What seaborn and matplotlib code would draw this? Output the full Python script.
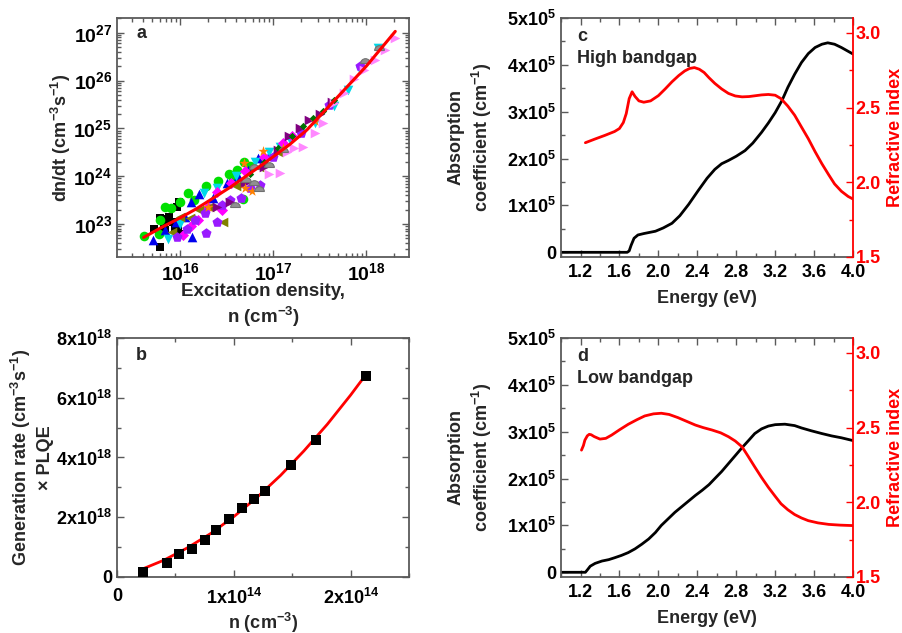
import numpy as np
import pandas as pd
import matplotlib
matplotlib.use("Agg")
import matplotlib.pyplot as plt
import seaborn as sns
from matplotlib.ticker import MultipleLocator, FixedLocator, LogLocator, NullFormatter
from matplotlib.markers import MarkerStyle

# ---------------- data: panel a (log10 values) ----------------
black_sq_logn = [15.72, 15.78, 15.78, 15.82, 15.84, 15.84, 15.88, 15.92, 15.94, 15.96, 15.98, 15.99, 16.0]
black_sq_logy = [22.89, 22.52, 23.12, 22.94, 23.10, 22.87, 23.14, 23.05, 22.93, 23.35, 22.87, 23.47, 22.80]
green_ci_logn = [15.61, 15.77, 15.78, 15.84, 15.90, 16.0, 16.08, 16.15, 16.28, 16.41, 16.52, 16.57, 16.61, 16.67, 16.68, 16.75]
green_ci_logy = [22.75, 22.80, 23.08, 23.35, 23.33, 23.47, 23.64, 23.50, 23.80, 23.90, 24.05, 23.96, 24.12, 23.52, 24.29, 24.22]
blue_tr_logn = [15.71, 15.84, 15.95, 16.05, 16.12, 16.13, 16.20, 16.35, 16.5, 16.62, 16.73, 16.84, 16.95]
blue_tr_logy = [22.66, 22.87, 23.05, 23.15, 23.47, 22.72, 23.63, 23.55, 23.85, 24.0, 24.13, 24.38, 24.45]
cyan_dt_logn = [15.87, 16.0, 16.25, 16.4, 16.6, 16.8, 16.95, 17.07, 17.18, 17.29, 17.45, 17.65, 17.8, 17.93, 18.13]
cyan_dt_logy = [22.68, 23.0, 23.64, 23.75, 24.0, 24.3, 24.5, 24.62, 24.76, 24.90, 25.12, 25.46, 25.80, 26.23, 26.69]
magenta_di_logn = [16.03, 16.12, 16.19, 16.30, 16.40, 16.45, 16.55, 16.7, 16.9, 17.1, 17.2]
magenta_di_logy = [22.77, 22.95, 23.08, 23.35, 23.68, 23.29, 23.85, 24.1, 24.4, 24.7, 24.85]
olive_lt_logn = [15.91, 16.0, 16.10, 16.2, 16.31, 16.46, 16.6, 16.85, 17.05]
olive_lt_logy = [22.84, 23.15, 23.12, 23.3, 23.35, 23.05, 23.8, 24.2, 24.5]
violet_pe_logn = [15.96, 16.07, 16.16, 16.27, 16.28, 16.39, 16.45, 16.53, 16.65, 16.75, 16.86, 17.0, 17.3, 17.6, 17.93]
violet_pe_logy = [22.73, 22.90, 23.08, 23.22, 22.82, 23.05, 23.40, 23.50, 23.55, 23.75, 23.82, 24.4, 24.9, 25.5, 26.3]
purple_rt_logn = [16.4, 16.53, 16.7, 16.9, 17.05, 17.17, 17.29, 17.38, 17.5, 17.63]
purple_rt_logy = [23.35, 23.47, 23.85, 24.2, 24.55, 24.85, 25.0, 25.18, 25.3, 25.55]
orange_st_logn = [16.30, 16.68, 16.70, 16.77, 16.89, 17.1, 17.45]
orange_st_logy = [23.36, 24.28, 23.75, 23.70, 24.53, 24.6, 25.15]
gray_hc_logn = [16.59, 16.71, 16.79, 16.79, 16.85, 16.95, 17.1, 17.99, 18.14]
gray_hc_logy = [23.36, 23.87, 23.82, 24.15, 23.70, 24.2, 24.5, 26.37, 26.65]
pink_rt_logn = [16.95, 17.07, 17.15, 17.22, 17.32, 17.45, 17.54, 17.65, 17.76, 17.87, 17.98, 18.09, 18.2, 18.31]
pink_rt_logy = [24.05, 24.06, 24.5, 24.59, 24.62, 24.90, 25.12, 25.53, 25.74, 26.03, 26.23, 26.44, 26.65, 26.90]
dgreen_sm_logn = [16.75, 16.9, 17.05, 17.2, 17.32, 17.43, 17.54, 17.65]
dgreen_sm_logy = [24.05, 24.3, 24.6, 24.85, 25.05, 25.21, 25.36, 25.6]

fit_a_n = [4.04e15, 6.3e15, 1.0e16, 1.5e16, 3.5e16, 8.0e16, 1.5e17, 2.3e17, 5.2e17, 1.0e18, 2.05e18]
fit_a_rate = [5.25e22, 8.5e22, 1.35e23, 2.1e23, 6.0e23, 1.86e24, 4.6e24, 9.3e24, 5.1e25, 2.0e26, 1.07e27]

a_xticks = [1e16, 1e17, 1e18]
a_xticklabels = [r"$10^{16}$", r"$10^{17}$", r"$10^{18}$"]
a_yticks = [1e23, 1e24, 1e25, 1e26, 1e27]
a_yticklabels = [r"$10^{23}$", r"$10^{24}$", r"$10^{25}$", r"$10^{26}$", r"$10^{27}$"]

# ---------------- data: panel b ----------------
b_n = [0.22e14, 0.43e14, 0.53e14, 0.64e14, 0.75e14, 0.85e14, 0.96e14, 1.07e14, 1.17e14, 1.27e14, 1.49e14, 1.70e14, 2.13e14]
b_g = [0.16e18, 0.46e18, 0.76e18, 0.93e18, 1.24e18, 1.57e18, 1.93e18, 2.32e18, 2.61e18, 2.89e18, 3.75e18, 4.58e18, 6.73e18]
b_fit_n = [0.22e14, 0.4e14, 0.6e14, 0.8e14, 1.0e14, 1.2e14, 1.4e14, 1.6e14, 1.8e14, 2.0e14, 2.13e14]
b_fit_g = [0.27e18, 0.56e18, 0.97e18, 1.45e18, 2.02e18, 2.67e18, 3.40e18, 4.22e18, 5.11e18, 6.09e18, 6.77e18]
b_xticks = [0, 1e14, 2e14]
b_xticklabels = ["0", r"1x10$^{14}$", r"2x10$^{14}$"]
b_yticks = [0, 2e18, 4e18, 6e18, 8e18]
b_yticklabels = ["0", r"2x10$^{18}$", r"4x10$^{18}$", r"6x10$^{18}$", r"8x10$^{18}$"]

# ---------------- data: panel c (high bandgap) ----------------
c_abs_e = [1.0, 1.68, 1.70, 1.72, 1.75, 1.79, 1.85, 1.97, 2.05, 2.14, 2.22, 2.31, 2.41, 2.50, 2.58, 2.65, 2.72,
           2.80, 2.89, 2.97, 3.06, 3.13, 3.20, 3.27, 3.33, 3.40, 3.47, 3.54, 3.61, 3.68, 3.74, 3.81, 3.88, 3.94, 4.0]
c_abs = [0, 0, 0.03e5, 0.15e5, 0.30e5, 0.37e5, 0.40e5, 0.45e5, 0.52e5, 0.62e5, 0.78e5, 1.02e5, 1.32e5, 1.58e5,
         1.77e5, 1.89e5, 1.96e5, 2.05e5, 2.17e5, 2.33e5, 2.56e5, 2.76e5, 2.98e5, 3.24e5, 3.52e5, 3.80e5, 4.05e5,
         4.24e5, 4.37e5, 4.44e5, 4.47e5, 4.44e5, 4.37e5, 4.30e5, 4.23e5]
c_ri_e = [1.25, 1.35, 1.45, 1.55, 1.60, 1.64, 1.67, 1.70, 1.73, 1.76, 1.80, 1.85, 1.92, 2.0, 2.07, 2.14, 2.21,
          2.27, 2.32, 2.37, 2.42, 2.47, 2.52, 2.58, 2.65, 2.72, 2.79, 2.86, 2.93, 2.99, 3.06, 3.13, 3.20, 3.26,
          3.33, 3.40, 3.47, 3.54, 3.61, 3.68, 3.75, 3.81, 3.88, 3.95, 4.0]
c_ri = [2.265, 2.29, 2.314, 2.34, 2.36, 2.40, 2.46, 2.56, 2.606, 2.575, 2.545, 2.536, 2.545, 2.58, 2.625, 2.673,
        2.715, 2.745, 2.762, 2.768, 2.757, 2.735, 2.70, 2.662, 2.625, 2.595, 2.578, 2.572, 2.574, 2.579, 2.585,
        2.588, 2.583, 2.56, 2.51, 2.449, 2.37, 2.292, 2.205, 2.124, 2.05, 1.989, 1.94, 1.905, 1.888]

# ---------------- data: panel d (low bandgap) ----------------
d_abs_e = [1.0, 1.25, 1.27, 1.30, 1.35, 1.42, 1.49, 1.55, 1.62, 1.69, 1.76, 1.83, 1.90, 1.97, 2.03, 2.10, 2.17,
           2.24, 2.31, 2.38, 2.45, 2.52, 2.58, 2.65, 2.72, 2.79, 2.86, 2.93, 2.99, 3.06, 3.13, 3.20, 3.30, 3.40,
           3.47, 3.57, 3.68, 3.78, 3.88, 4.0]
d_abs = [0, 0, 0.05e5, 0.13e5, 0.19e5, 0.24e5, 0.27e5, 0.31e5, 0.36e5, 0.42e5, 0.50e5, 0.60e5, 0.71e5, 0.85e5,
         1.0e5, 1.14e5, 1.28e5, 1.40e5, 1.52e5, 1.64e5, 1.75e5, 1.87e5, 2.0e5, 2.15e5, 2.32e5, 2.49e5, 2.66e5,
         2.82e5, 2.96e5, 3.06e5, 3.12e5, 3.15e5, 3.16e5, 3.13e5, 3.08e5, 3.02e5, 2.96e5, 2.91e5, 2.87e5, 2.81e5]
d_ri_e = [1.21, 1.23, 1.245, 1.27, 1.29, 1.31, 1.34, 1.40, 1.46, 1.52, 1.60, 1.69, 1.78, 1.86, 1.95, 2.03, 2.11,
          2.20, 2.29, 2.38, 2.46, 2.55, 2.64, 2.72, 2.79, 2.86, 2.92, 2.99, 3.06, 3.13, 3.20, 3.26, 3.33, 3.40,
          3.47, 3.54, 3.64, 3.75, 3.87, 4.0]
d_ri = [2.349, 2.38, 2.416, 2.445, 2.455, 2.452, 2.44, 2.423, 2.428, 2.45, 2.485, 2.522, 2.553, 2.578, 2.592,
        2.596, 2.588, 2.567, 2.542, 2.517, 2.50, 2.484, 2.465, 2.439, 2.41, 2.371, 2.31, 2.237, 2.166, 2.10, 2.04,
        1.99, 1.95, 1.918, 1.895, 1.877, 1.862, 1.852, 1.847, 1.844]

abs_ticks = [0, 1e5, 2e5, 3e5, 4e5, 5e5]
abs_ticklabels = ["0", r"1x10$^5$", r"2x10$^5$", r"3x10$^5$", r"4x10$^5$", r"5x10$^5$"]
energy_ticks = [1.2, 1.6, 2.0, 2.4, 2.8, 3.2, 3.6, 4.0]
ri_ticks = [1.5, 2.0, 2.5, 3.0]

# ---------------- style ----------------
sns.set_style("ticks")
plt.rcParams['font.family'] = ['Liberation Sans', 'DejaVu Sans']
plt.rcParams['font.weight'] = 'bold'
plt.rcParams['axes.labelweight'] = 'bold'
plt.rcParams['mathtext.fontset'] = 'custom'
plt.rcParams['mathtext.rm'] = 'Liberation Sans:bold'
plt.rcParams['mathtext.bf'] = 'Liberation Sans:bold'
plt.rcParams['mathtext.it'] = 'Liberation Sans:bold'
plt.rcParams['mathtext.default'] = 'rm'

FRAME = '#5a5a5a'
TICK_FS = 13
LABEL_FS = 13

fig = plt.figure(figsize=(9.03, 6.33), dpi=100)
W = 0.3234
H = 0.3776
ax_a = fig.add_axes([0.1296, 0.594, W, H])
ax_b = fig.add_axes([0.1296, 0.0885, W, H])
ax_c = fig.add_axes([0.6213, 0.594, W, H])
ax_d = fig.add_axes([0.6213, 0.0885, W, H])


def frame(ax, right=True):
    for s in ax.spines.values():
        s.set_color(FRAME)
        s.set_linewidth(1.3)
    ax.tick_params(which='both', direction='in', top=True, right=right, colors=FRAME,
                   labelcolor='black', labelsize=TICK_FS, width=1.0)
    ax.tick_params(which='major', length=5)
    ax.tick_params(which='minor', length=3)


# ---------------- panel a ----------------
series = [
    (black_sq_logn, black_sq_logy, 's', 'black', 40),
    (green_ci_logn, green_ci_logy, 'o', '#00e000', 48),
    (blue_tr_logn, blue_tr_logy, '^', '#0000ee', 48),
    (cyan_dt_logn, cyan_dt_logy, 'v', '#00d8e8', 48),
    (magenta_di_logn, magenta_di_logy, 'D', '#ff00ff', 32),
    (olive_lt_logn, olive_lt_logy, '<', '#808000', 48),
    (violet_pe_logn, violet_pe_logy, 'p', '#9a1aff', 58),
    (purple_rt_logn, purple_rt_logy, '>', '#800080', 48),
    (orange_st_logn, orange_st_logy, '*', '#ff8000', 60),
    (pink_rt_logn, pink_rt_logy, '>', '#ff88ff', 48),
    (dgreen_sm_logn, dgreen_sm_logy, 'D', '#007000', 14),
]
for lx, ly, mk, col, sz in series:
    sns.scatterplot(x=10 ** np.array(lx), y=10 ** np.array(ly), ax=ax_a, marker=mk, color=col,
                    s=sz, linewidth=0, zorder=2)
half = MarkerStyle('o', fillstyle='top')
ax_a.scatter(10 ** np.array(gray_hc_logn), 10 ** np.array(gray_hc_logy), marker=half, s=48,
             facecolor='#909090', edgecolor='#707070', linewidth=0.8, zorder=3)
sns.lineplot(x=fit_a_n, y=fit_a_rate, ax=ax_a, color='red', linewidth=2.2, zorder=5)
ax_a.set_xscale('log')
ax_a.set_yscale('log')
ax_a.set_xlim(10 ** 15.32, 10 ** 18.46)
ax_a.set_ylim(10 ** 22.31, 10 ** 27.31)
ax_a.xaxis.set_major_locator(FixedLocator(a_xticks))
ax_a.set_xticklabels(a_xticklabels)
ax_a.yaxis.set_major_locator(FixedLocator(a_yticks))
ax_a.set_yticklabels(a_yticklabels)
ax_a.xaxis.set_minor_locator(LogLocator(base=10, subs=np.arange(2, 10)))
ax_a.yaxis.set_minor_locator(LogLocator(base=10, subs=np.arange(2, 10)))
ax_a.xaxis.set_minor_formatter(NullFormatter())
ax_a.yaxis.set_minor_formatter(NullFormatter())
frame(ax_a)
ax_a.tick_params(axis='both', which='major', labelsize=14)
ax_a.set_xlabel("Excitation density,\nn (cm$^{-3}$)", fontsize=LABEL_FS + 0.5, linespacing=1.3)
ax_a.set_ylabel("dn/dt (cm$^{-3}$s$^{-1}$)", fontsize=LABEL_FS)
ax_a.xaxis.set_label_coords(0.5, -0.108)
ax_a.yaxis.set_label_coords(-0.15, 0.5)
ax_a.text(0.065, 0.935, "a", transform=ax_a.transAxes, fontsize=LABEL_FS, fontweight='bold', va='center')

# ---------------- panel b ----------------
sns.lineplot(x=b_fit_n, y=b_fit_g, ax=ax_b, color='red', linewidth=2.0, zorder=3)
sns.scatterplot(x=b_n, y=b_g, ax=ax_b, marker='s', color='black', s=55, linewidth=0, zorder=4)
ax_b.set_xlim(0, 2.5e14)
ax_b.set_ylim(0, 8e18)
ax_b.set_xticks(b_xticks)
ax_b.set_xticklabels(b_xticklabels)
ax_b.set_yticks(b_yticks)
ax_b.set_yticklabels(b_yticklabels)
ax_b.xaxis.set_minor_locator(MultipleLocator(0.5e14))
ax_b.yaxis.set_minor_locator(MultipleLocator(1e18))
frame(ax_b)
ax_b.tick_params(axis='x', which='major', pad=8)
ax_b.set_xlabel("n (cm$^{-3}$)", fontsize=LABEL_FS)
ax_b.set_ylabel("Generation rate (cm$^{-3}$s$^{-1}$)\n\u00d7 PLQE", fontsize=LABEL_FS, linespacing=1.3)
ax_b.xaxis.set_label_coords(0.5, -0.14)
ax_b.yaxis.set_label_coords(-0.216, 0.5)
ax_b.text(0.065, 0.925, "b", transform=ax_b.transAxes, fontsize=LABEL_FS, fontweight='bold', va='center')


# ---------------- panels c, d ----------------
def optics(ax, e_abs, a_vals, e_ri, ri_vals, title):
    sns.lineplot(x=e_abs, y=a_vals, ax=ax, color='black', linewidth=2.0, sort=False)
    ax.set_xlim(1.0, 4.0)
    ax.set_ylim(-1e4, 5e5)
    ax.set_xticks(energy_ticks)
    ax.set_xticklabels([f"{v:.1f}" for v in energy_ticks])
    ax.xaxis.set_minor_locator(MultipleLocator(0.2))
    ax.set_yticks(abs_ticks)
    ax.set_yticklabels(abs_ticklabels)
    ax.yaxis.set_minor_locator(MultipleLocator(0.5e5))
    frame(ax, right=False)
    ax.spines['right'].set_visible(False)
    ax.tick_params(axis='x', which='major', pad=5)
    ax.set_xlabel("Energy (eV)", fontsize=LABEL_FS)
    ax.set_ylabel("Absorption\ncoefficient (cm$^{-1}$)", fontsize=LABEL_FS, linespacing=1.3)
    ax.xaxis.set_label_coords(0.5, -0.14)
    ax.yaxis.set_label_coords(-0.23, 0.5)
    ax.text(0.055, 0.96, title, transform=ax.transAxes, fontsize=LABEL_FS, fontweight='bold',
            va='top', linespacing=1.4)

    ax2 = ax.twinx()
    sns.lineplot(x=e_ri, y=ri_vals, ax=ax2, color='red', linewidth=2.0, sort=False)
    ax2.set_ylim(1.5, 3.1)
    ax2.set_yticks(ri_ticks)
    ax2.set_yticklabels([f"{v:.1f}" for v in ri_ticks])
    ax2.yaxis.set_minor_locator(MultipleLocator(0.25))
    for s in ['left', 'top', 'bottom']:
        ax2.spines[s].set_visible(False)
    ax2.spines['right'].set_color('red')
    ax2.spines['right'].set_linewidth(1.3)
    ax2.tick_params(axis='y', which='both', direction='in', colors='red', labelcolor='red',
                    labelsize=TICK_FS, width=1.0, pad=2)
    ax2.tick_params(axis='y', which='major', length=5)
    ax2.tick_params(axis='y', which='minor', length=3)
    ax2.set_ylabel("Refractive index", fontsize=LABEL_FS, color='red')
    ax2.yaxis.set_label_coords(1.115, 0.5)
    ax2.set_xlim(1.0, 4.0)


optics(ax_c, c_abs_e, c_abs, c_ri_e, c_ri, "c\nHigh bandgap")
optics(ax_d, d_abs_e, d_abs, d_ri_e, d_ri, "d\nLow bandgap")

fig.savefig("out.png", dpi=100)
